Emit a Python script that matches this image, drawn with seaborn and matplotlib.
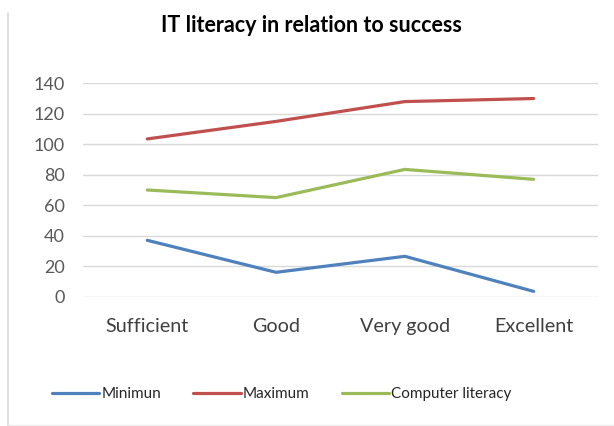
import pandas as pd
import matplotlib.pyplot as plt
import seaborn as sns
from matplotlib.lines import Line2D

# IT literacy vs. success level
levels = ['Sufficient', 'Good', 'Very good', 'Excellent']
minimun = [37, 16, 26.5, 3.5]
maximum = [103.5, 115, 128, 130]
computer_literacy = [70, 65, 83.5, 77]

series_names = ['Minimun', 'Maximum', 'Computer literacy']
colors = ['#4F81BD', '#C0504D', '#9BBB59']

df = pd.DataFrame({
    'level': levels * 3,
    'value': minimun + maximum + computer_literacy,
    'series': [s for s in series_names for _ in levels],
})

sns.set_style('white')
plt.rcParams['font.family'] = ['Lato', 'DejaVu Sans']

fig = plt.figure(figsize=(6.14, 4.26), dpi=100)
ax = fig.add_axes([0.135, 0.3035, 0.839, 0.501])

sns.lineplot(data=df, x='level', y='value', hue='series', palette=colors,
             linewidth=2.3, sort=False, ax=ax)

ax.set_ylim(0, 140)
ax.set_xlim(-0.5, 3.5)
ax.set_yticks(range(0, 141, 20))
ax.yaxis.grid(True, color='#D9D9D9', linewidth=1)
ax.set_axisbelow(True)
for sp in ax.spines.values():
    sp.set_visible(False)
ax.tick_params(axis='y', length=0, pad=13, labelsize=13, labelcolor='#595959')
ax.tick_params(axis='x', length=0, pad=15, labelsize=14.2, labelcolor='#404040')
ax.set_xlabel('')
ax.set_ylabel('')

handles, labels = ax.get_legend_handles_labels()
ax.get_legend().remove()
fig.legend(handles, labels, loc='center', bbox_to_anchor=(0.459, 0.075), ncol=3,
           frameon=False, fontsize=11, handlelength=3.1, handletextpad=0.15,
           columnspacing=2.1)

fig.text(0.508, 0.94, 'IT literacy in relation to success', ha='center', va='center',
         fontsize=15.5, fontweight='bold', color='#000000')

# chart frame edges
fig.add_artist(Line2D([0.013, 0.013], [0.0, 0.97], color='#D9D9D9', linewidth=1.2))
fig.add_artist(Line2D([0.013, 1.0], [0.003, 0.003], color='#EDEDED', linewidth=1))

fig.savefig('out.png', dpi=100)
